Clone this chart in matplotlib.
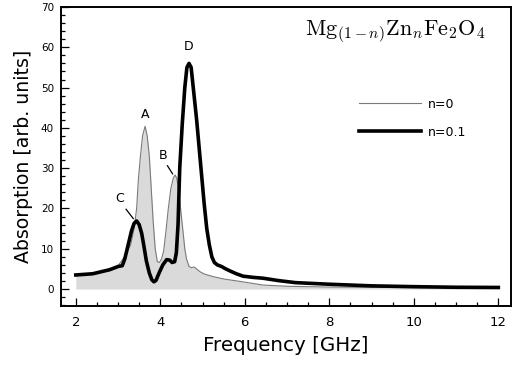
import matplotlib as mplt
mplt.use('Agg')
import matplotlib.pyplot as plt
import matplotlib.ticker as plticker

plt.rcParams['mathtext.fontset'] = 'cm'

# n=0 spectrum (thin gray, filled)
freq0 = [2.0, 2.4, 2.8, 3.0, 3.1, 3.2, 3.3, 3.38, 3.44, 3.48, 3.53, 3.58, 3.64,
         3.69, 3.74, 3.78, 3.83, 3.88, 3.93, 3.98, 4.03, 4.08, 4.13, 4.19, 4.25,
         4.31, 4.35, 4.39, 4.44, 4.49, 4.54, 4.58, 4.62, 4.68, 4.74, 4.8, 4.86,
         4.94, 5.05, 5.25, 5.5, 5.89, 6.43, 7.0, 8.0, 10.0, 12.0]
abs0 = [3.4, 3.7, 4.6, 5.8, 7.2, 8.8, 11.0, 15.0, 20.0, 27.0, 33.0, 38.0, 40.4,
        38.0, 33.0, 26.0, 17.0, 10.0, 6.8, 6.6, 7.5, 9.5, 14.0, 20.0, 25.0,
        27.6, 28.3, 27.5, 24.0, 19.0, 14.0, 10.0, 7.5, 5.6, 5.3, 5.5, 5.0,
        4.3, 3.7, 3.1, 2.5, 1.9, 1.0, 0.7, 0.5, 0.35, 0.3]

# n=0.1 spectrum (thick black)
freq1 = [2.0, 2.4, 2.8, 3.0, 3.1, 3.16, 3.24, 3.32, 3.38, 3.44, 3.5, 3.56, 3.62,
         3.67, 3.74, 3.8, 3.85, 3.9, 3.98, 4.06, 4.15, 4.22, 4.28, 4.34, 4.38,
         4.42, 4.46, 4.52, 4.58, 4.63, 4.68, 4.73, 4.78, 4.86, 4.92, 4.98, 5.04,
         5.1, 5.16, 5.22, 5.28, 5.35, 5.45, 5.55, 5.65, 5.8, 5.96, 6.2, 6.43,
         6.8, 7.2, 8.0, 9.0, 10.0, 11.0, 12.0]
abs1 = [3.5, 3.8, 4.8, 5.6, 5.8, 7.5, 11.0, 14.5, 16.3, 16.9, 16.0, 13.8, 10.2,
        7.0, 4.0, 2.3, 1.8, 2.2, 4.2, 6.0, 7.3, 7.2, 6.6, 6.8, 9.0,
        16.0, 30.0, 41.0, 50.0, 55.0, 56.0, 55.0, 50.0, 42.0, 35.0, 28.0, 21.0,
        15.0, 11.0, 8.0, 6.6, 6.0, 5.6, 5.0, 4.5, 3.8, 3.2, 2.9, 2.7,
        2.1, 1.6, 1.2, 0.8, 0.6, 0.45, 0.4]

# peak labels: (text, label x, label y, leader start, leader end)
peaks = [('A', 3.64, 41.8, None, None),
         ('B', 4.07, 31.5, (4.17, 30.6), (4.29, 28.6)),
         ('C', 3.04, 20.8, (3.19, 19.8), (3.36, 17.5)),
         ('D', 4.66, 58.6, None, None)]

fig = plt.figure(figsize=(5.2, 3.67), dpi=100)
ax = fig.add_axes([0.1173, 0.1662, 0.8654, 0.8148])

ax.fill_between(freq0, 0, abs0, color='#dadada', linewidth=0)
ax.plot(freq0, abs0, color='#7a7a7a', linewidth=0.8, label='n=0')
ax.plot(freq1, abs1, color='black', linewidth=2.6, label='n=0.1')

for name, tx, ty, p0, p1 in peaks:
    ax.text(tx, ty, name, fontsize=9, ha='center', va='bottom')
    if p0 is not None:
        ax.plot([p0[0], p1[0]], [p0[1], p1[1]], color='black', linewidth=0.9)

ax.text(7.43, 63.0, r'$\mathrm{Mg}_{(1-n)}\mathrm{Zn}_n\mathrm{Fe}_2\mathrm{O}_4$',
        fontsize=16, ha='left', va='baseline')

ax.legend(loc='upper left', bbox_to_anchor=(0.662, 0.697), frameon=False,
          fontsize=9, handlelength=5.0, handletextpad=0.55, labelspacing=1.2,
          borderpad=0, borderaxespad=0)

ax.set_xlim(1.65, 12.3)
ax.set_ylim(-4.2, 70)
ax.xaxis.set_major_locator(plticker.MultipleLocator(2))
ax.xaxis.set_minor_locator(plticker.MultipleLocator(0.5))
ax.yaxis.set_major_locator(plticker.MultipleLocator(10))
ax.yaxis.set_minor_locator(plticker.MultipleLocator(2))

for s in ax.spines.values():
    s.set_linewidth(1.4)
ax.tick_params(which='both', direction='in', top=False, right=False, width=0.9)
ax.tick_params(which='major', length=5.5)
ax.tick_params(which='minor', length=3)
ax.tick_params(axis='x', labelsize=9.5, pad=7)
ax.tick_params(axis='y', labelsize=7.5, pad=5)

ax.set_xlabel('Frequency [GHz]', fontsize=14.3, labelpad=5)
ax.set_ylabel('Absorption [arb. units]', fontsize=13.6, labelpad=6)

plt.savefig('out.png', dpi=100)
